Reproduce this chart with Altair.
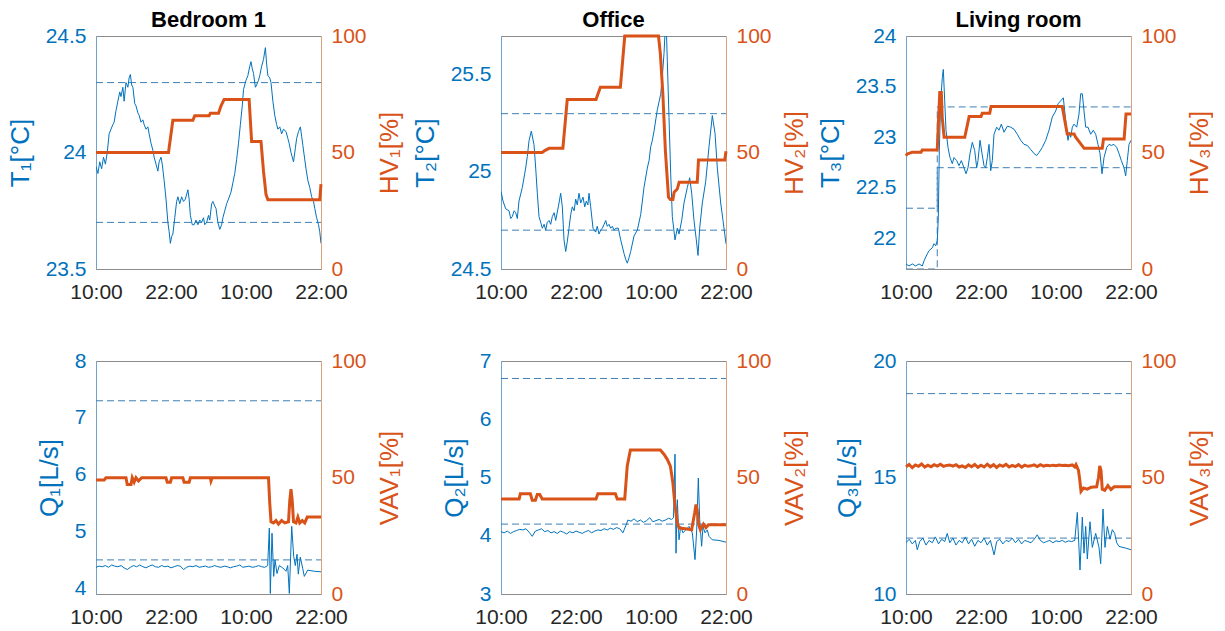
import altair as alt
import pandas as pd

BLUE = "#0072BD"
ORANGE = "#D95319"
DASH = "#3f7fb5"
FONT = "Liberation Sans"

TICK_H = [0, 12, 24, 36]
TICK_LABELS = ["10:00", "22:00", "10:00", "22:00"]

ROOMS = ["Bedroom 1", "Office", "Living room"]

# ---- temperature (left) -------------------------------------------------
T1 = [(0.0,23.94),(0.3,23.91),(0.6,23.96),(0.9,23.93),(1.2,23.98),(1.5,23.95),(1.8,24.00),(2.1,24.08),(2.4,24.10),(2.7,24.12),(2.9,24.13),(3.2,24.18),(3.5,24.22),(3.8,24.26),(4.0,24.24),(4.3,24.28),(4.5,24.22),(4.8,24.30),(5.1,24.28),(5.3,24.32),(5.5,24.335),(5.7,24.29),(5.9,24.28),(6.2,24.21),(6.4,24.20),(6.7,24.17),(6.9,24.16),(7.2,24.13),(7.5,24.14),(7.7,24.12),(8.0,24.10),(8.3,24.11),(8.5,24.08),(8.8,24.04),(9.1,24.01),(9.3,23.98),(9.6,23.95),(9.9,23.92),(10.1,23.96),(10.4,23.98),(10.6,23.95),(10.9,23.88),(11.2,23.80),(11.5,23.70),(11.7,23.66),(11.9,23.61),(12.1,23.64),(12.3,23.65),(12.6,23.72),(12.9,23.79),(13.1,23.81),(13.4,23.78),(13.7,23.81),(14.0,23.79),(14.3,23.80),(14.7,23.84),(14.9,23.80),(15.1,23.73),(15.4,23.69),(15.7,23.69),(16.0,23.71),(16.3,23.69),(16.6,23.71),(16.9,23.70),(17.2,23.72),(17.4,23.69),(17.7,23.70),(18.0,23.73),(18.2,23.71),(18.5,23.78),(18.7,23.79),(19.0,23.77),(19.2,23.76),(19.5,23.70),(19.8,23.67),(20.1,23.69),(20.3,23.72),(20.6,23.75),(20.9,23.78),(21.2,23.80),(21.6,23.83),(21.9,23.87),(22.2,23.91),(22.5,23.97),(22.8,24.04),(23.1,24.12),(23.4,24.20),(23.6,24.27),(24.0,24.31),(24.3,24.33),(24.6,24.37),(24.8,24.39),(25.0,24.36),(25.2,24.34),(25.5,24.28),(25.7,24.29),(26.0,24.31),(26.2,24.33),(26.5,24.37),(26.8,24.40),(27.1,24.45),(27.3,24.38),(27.5,24.33),(27.8,24.32),(28.0,24.30),(28.3,24.22),(28.6,24.16),(28.9,24.12),(29.1,24.10),(29.4,24.11),(29.7,24.08),(30.0,24.10),(30.4,24.09),(30.7,24.06),(30.9,24.04),(31.2,24.00),(31.6,23.96),(31.9,24.02),(32.1,24.06),(32.4,24.09),(32.7,24.11),(32.9,24.07),(33.1,24.03),(33.3,23.99),(33.6,23.93),(33.9,23.88),(34.2,23.85),(34.5,23.81),(34.8,23.79),(35.0,23.76),(35.3,23.72),(35.6,23.69),(35.8,23.66),(36.0,23.61)]

T2 = [(0,24.90),(0.32,24.85),(0.75,24.81),(1.28,24.80),(1.55,24.76),(1.81,24.77),(2.1,24.80),(2.35,24.79),(2.61,24.76),(2.88,24.85),(3.41,24.92),(3.95,25.02),(4.21,25.08),(4.48,25.16),(4.85,25.21),(5.28,25.14),(5.55,25.02),(5.81,24.89),(6.08,24.77),(6.35,24.74),(6.61,24.71),(6.9,24.73),(7.15,24.70),(7.4,24.74),(7.68,24.75),(7.95,24.73),(8.21,24.77),(8.5,24.79),(8.75,24.75),(9.17,24.82),(9.55,24.89),(9.81,24.82),(10.08,24.65),(10.35,24.59),(10.6,24.64),(10.88,24.71),(11.15,24.78),(11.41,24.82),(11.7,24.80),(11.95,24.86),(12.2,24.83),(12.48,24.89),(12.75,24.84),(13.12,24.87),(13.4,24.82),(13.65,24.85),(13.9,24.83),(14.08,24.89),(14.35,24.82),(14.72,24.71),(15.15,24.69),(15.4,24.72),(15.68,24.68),(15.95,24.70),(16.21,24.71),(16.5,24.73),(16.75,24.75),(17.0,24.72),(17.28,24.73),(17.55,24.71),(17.81,24.72),(18.1,24.70),(18.35,24.71),(18.77,24.71),(19.15,24.65),(19.68,24.58),(19.95,24.55),(20.21,24.53),(20.5,24.56),(20.75,24.59),(21.28,24.67),(21.81,24.70),(22.35,24.78),(22.88,24.92),(23.41,25.02),(23.7,25.06),(23.95,25.13),(24.2,25.16),(24.48,25.21),(25.01,25.32),(25.55,25.40),(25.81,25.49),(26.08,25.61),(26.3,25.75),(26.45,25.75),(26.61,25.57),(26.88,25.28),(27.15,24.99),(27.41,24.77),(27.84,24.65),(28.21,24.71),(28.48,24.68),(28.91,24.75),(29.28,24.84),(29.81,24.92),(30.19,24.97),(30.51,24.89),(30.88,24.75),(31.25,24.65),(31.52,24.57),(31.79,24.71),(32.21,24.84),(32.75,24.95),(33.28,25.13),(33.81,25.29),(34.24,25.20),(34.61,25.02),(35.15,24.84),(35.52,24.75),(36.0,24.63)]

T3 = [(0,21.75),(0.48,21.73),(1.01,21.75),(1.55,21.73),(2.08,21.75),(2.61,21.73),(2.88,21.78),(3.41,21.85),(3.68,21.88),(4.21,21.91),(4.48,21.95),(4.75,21.93),(5.01,21.98),(5.17,22.21),(5.33,22.87),(5.55,23.36),(5.81,23.59),(5.97,23.67),(6.19,23.36),(6.4,23.07),(6.72,22.90),(7.04,22.80),(7.41,22.74),(7.68,22.80),(8.11,22.77),(8.48,22.72),(8.85,22.77),(9.28,22.70),(9.6,22.64),(9.92,22.70),(10.24,22.84),(10.61,22.95),(10.99,22.87),(11.31,22.70),(11.52,22.77),(11.84,22.97),(12.16,22.84),(12.48,22.72),(12.75,22.70),(13.01,22.80),(13.28,22.93),(13.55,22.67),(13.81,22.77),(14.08,23.03),(14.51,23.10),(14.88,23.07),(15.25,23.13),(15.68,23.05),(16.21,23.11),(16.75,23.10),(17.28,23.08),(17.81,23.03),(18.35,22.97),(18.88,22.93),(19.41,22.92),(19.95,22.88),(20.48,22.84),(20.91,22.82),(21.28,22.85),(21.81,22.90),(22.35,22.97),(22.88,23.07),(23.41,23.20),(23.95,23.26),(24.32,23.33),(24.75,23.36),(25.17,23.39),(25.39,23.26),(25.71,23.07),(25.92,22.97),(26.13,23.05),(26.35,23.00),(26.61,23.10),(26.88,23.13),(27.31,23.10),(27.68,23.23),(27.95,23.43),(28.21,23.43),(28.48,23.26),(28.75,23.10),(29.12,23.10),(29.55,23.03),(29.97,23.07),(30.35,23.03),(30.72,22.93),(31.04,22.84),(31.36,22.64),(31.68,22.80),(32.11,22.90),(32.48,22.93),(32.85,22.92),(33.28,22.93),(33.71,22.90),(34.08,22.84),(34.45,22.77),(34.88,22.70),(35.15,22.62),(35.41,22.77),(35.68,22.93),(36.0,22.97)]

# ---- heating valve (right) ---------------------------------------------
HV1 = [(0,50),(11.6,50),(12.3,63.8),(15.5,63.8),(15.8,65.8),(18.1,65.8),(18.3,66.8),(19.6,66.8),(20.0,70),(20.5,72.8),(24.5,72.8),(24.9,54.7),(26.4,54.7),(26.8,42),(27.2,32),(27.5,29.7),(35.8,29.7),(36,36.4)]
HV2 = [(0,50),(6.6,50),(7.0,50.8),(7.7,51.8),(9.9,51.8),(10.6,72.7),(15.2,72.7),(15.9,78),(19.1,78),(19.8,100),(25.2,100),(25.5,92.3),(25.9,75),(26.3,50.8),(26.8,30.8),(27.1,29.8),(27.5,29.8),(27.7,33),(28.2,34.3),(28.5,37.2),(31.4,37.2),(31.6,46.8),(35.8,46.8),(36,50.5)]
HV3 = [(0,48.6),(0.2,49.4),(1.0,50.1),(2.4,50.1),(2.6,51.1),(5.0,51.1),(5.4,75.8),(5.65,75.8),(5.8,65),(6.1,56.5),(9.4,56.5),(10.1,65.4),(12.0,65.4),(12.2,66.8),(13.4,66.8),(13.6,69.7),(25.0,69.7),(25.8,57.9),(26.9,57.9),(27.1,56.8),(27.6,55),(28.5,51.8),(31.4,51.8),(31.6,55.8),(34.9,55.8),(35.2,66.5),(36,66.5)]

# ---- air flow (left) ----------------------------------------------------
Q1 = [(0,4.37),(0.5,4.39),(1.0,4.38),(1.5,4.40),(2.0,4.37),(2.5,4.41),(3.0,4.39),(3.5,4.38),(4.0,4.40),(4.5,4.36),(5.0,4.33),(5.5,4.37),(6.0,4.40),(6.5,4.38),(7.0,4.41),(7.5,4.38),(8.0,4.36),(8.5,4.39),(9.0,4.41),(9.5,4.38),(10.0,4.37),(10.5,4.40),(11.0,4.38),(11.5,4.39),(12.0,4.36),(12.5,4.38),(13.0,4.40),(13.5,4.39),(14.0,4.33),(14.5,4.37),(15.0,4.39),(15.5,4.38),(16.0,4.40),(16.5,4.37),(17.0,4.38),(17.5,4.39),(18.0,4.37),(18.5,4.38),(19.0,4.40),(19.5,4.38),(20.0,4.37),(20.5,4.39),(21.0,4.38),(21.5,4.36),(22.0,4.38),(22.5,4.39),(23.0,4.41),(23.5,4.37),(24.0,4.38),(24.5,4.39),(25.0,4.37),(25.5,4.38),(26.0,4.40),(26.5,4.38),(27.0,4.37),(27.47,4.40),(27.73,5.06),(27.89,3.91),(28.16,4.97),(28.43,4.21),(28.64,4.50),(28.96,4.26),(29.33,4.40),(29.87,4.36),(30.4,4.30),(30.67,4.40),(30.93,3.91),(31.31,5.09),(31.63,4.56),(31.89,4.40),(32.16,4.60),(32.37,4.25),(32.69,4.55),(33.07,4.35),(33.33,4.21),(33.87,4.32),(34.93,4.30),(36.0,4.29)]

Q2 = [(0,4.07),(0.5,4.05),(1.0,4.08),(1.5,4.04),(2.0,4.07),(2.5,4.09),(3.0,4.11),(3.5,4.10),(4.0,4.12),(4.5,4.06),(5.0,3.99),(5.5,4.08),(6.0,4.10),(6.5,4.12),(7.0,4.07),(7.5,4.09),(8.0,4.05),(8.5,4.07),(9.0,4.04),(9.5,4.08),(10.0,4.06),(10.5,4.03),(11.0,4.07),(11.5,4.05),(12.0,4.08),(12.5,4.06),(13.0,4.04),(13.5,4.07),(14.0,4.09),(14.5,4.05),(15.0,4.08),(15.5,4.10),(16.0,4.09),(16.5,4.12),(17.0,4.10),(17.5,4.13),(18.0,4.11),(18.5,4.14),(19.0,4.12),(19.5,4.05),(20.0,4.18),(20.3,4.27),(20.8,4.25),(21.3,4.29),(21.8,4.24),(22.3,4.27),(22.8,4.23),(23.3,4.26),(23.8,4.31),(24.3,4.24),(24.8,4.26),(25.3,4.28),(25.8,4.25),(26.3,4.27),(26.8,4.30),(27.3,4.28),(27.6,4.31),(27.84,5.40),(28.0,3.70),(28.21,4.62),(28.48,3.93),(28.75,4.16),(29.12,4.05),(29.55,4.10),(30.08,4.16),(30.61,4.05),(31.04,3.59),(31.31,4.10),(31.57,4.99),(31.79,4.28),(32.1,3.82),(32.32,4.16),(32.64,4.05),(33.01,4.10),(33.28,3.99),(33.81,3.93),(34.88,3.92),(36.0,3.89)]

Q3 = [(0,12.20),(0.5,12.35),(1.0,12.15),(1.5,12.30),(1.8,11.90),(2.2,12.25),(2.7,12.40),(3.2,12.10),(3.7,12.30),(4.2,12.20),(4.7,12.45),(5.2,12.15),(5.7,12.35),(6.2,12.25),(6.6,12.60),(7.0,12.20),(7.5,12.40),(8.0,12.10),(8.5,12.30),(9.0,12.20),(9.5,12.45),(10.0,12.15),(10.5,12.35),(11.0,12.05),(11.5,12.30),(12.0,12.20),(12.5,12.40),(13.0,12.10),(13.5,12.30),(14.1,11.68),(14.5,12.25),(15.0,12.35),(15.5,12.15),(16.0,12.30),(16.5,12.25),(17.0,12.40),(17.5,12.20),(18.0,12.35),(18.5,12.15),(19.0,12.30),(19.5,12.25),(20.0,12.20),(20.5,12.35),(21.0,12.54),(21.5,12.30),(22.0,12.20),(22.5,12.25),(23.0,12.30),(23.5,12.20),(24.0,12.28),(24.5,12.25),(25.0,12.30),(25.5,12.22),(26.0,12.28),(26.5,12.25),(27.0,12.30),(27.41,13.50),(27.84,11.03),(28.21,13.30),(28.48,11.75),(28.75,12.90),(29.01,11.50),(29.44,13.10),(29.81,12.00),(30.35,12.60),(30.88,12.00),(31.15,11.30),(31.52,13.65),(31.84,12.00),(32.21,12.90),(32.64,12.35),(33.01,12.76),(33.39,12.60),(33.71,12.20),(34.08,12.04),(35.15,11.97),(36.0,11.90)]

# ---- VAV damper (right) -------------------------------------------------
VAV1 = [(0,48.9),(1.3,48.9),(1.6,49.9),(4.8,49.9),(5.0,47),(5.6,47),(5.8,49.9),(6.1,48),(6.4,49.9),(6.8,48.5),(7.3,49.9),(11.2,49.9),(11.4,48),(11.9,48),(12.1,49.9),(13.9,49.9),(14.1,48),(14.9,48),(15.1,49.9),(18.3,49.9),(18.4,48.5),(18.6,49.9),(27.6,49.9),(27.8,39),(28.0,31),(28.4,30.5),(28.8,31.5),(29.2,30),(29.7,31.5),(30.2,30.5),(30.8,31),(31.0,40),(31.2,45),(31.4,40),(31.6,31),(32.0,30.5),(32.3,33),(32.6,30.5),(33.0,31.5),(33.4,30.5),(33.8,33),(36,33)]
VAV2 = [(0,40.8),(2.9,40.8),(3.1,43),(4.7,43),(5.0,40.2),(5.5,40.2),(5.8,42.7),(6.2,42.7),(6.6,40.8),(15.2,40.8),(15.5,43),(18.3,43),(18.6,40.8),(19.8,40.8),(20.2,55),(20.7,61.8),(25.5,61.8),(26.1,59.9),(26.6,57.8),(27.1,54.9),(27.5,47.7),(27.8,39.1),(28.2,30.5),(28.5,28.3),(29.5,28),(30.5,27.6),(31.0,35),(31.2,38.4),(31.4,36),(31.6,30),(31.9,27.6),(32.4,30),(32.8,28.5),(33.2,29.7),(36,29.7)]
VAV3 = [(0,54.6),(0.5,55.6),(1.0,54.2),(1.5,55.4),(2.0,54.8),(2.5,55.8),(3.0,54.5),(3.5,55.3),(4.0,54.6),(4.5,55.5),(5.0,54.9),(5.5,55.7),(6.0,54.8),(6.5,55.2),(7.0,55.4),(7.5,54.9),(8.0,55.5),(8.5,54.5),(9.0,55.0),(9.5,54.3),(10.0,55.4),(10.5,54.6),(11.0,55.6),(11.5,54.4),(12.0,55.3),(12.5,54.5),(13.0,55.7),(13.5,54.6),(14.0,55.5),(14.5,54.3),(15.0,55.4),(15.5,54.8),(16.0,55.6),(16.5,54.5),(17.0,55.2),(17.5,54.7),(18.0,55.5),(18.5,54.4),(19.0,55.3),(19.5,54.8),(20.0,55.0),(20.5,55.4),(21.0,54.7),(21.5,55.5),(22.0,54.9),(22.5,55.2),(23.0,55.0),(23.5,55.3),(24.0,55.1),(24.5,55.4),(25.0,55.2),(25.5,55.3),(26.0,55.1),(26.6,55.4),(27.0,54.5),(27.2,55.5),(27.6,53.0),(27.8,49.0),(28.0,44.1),(28.4,45.5),(29.0,45.0),(29.6,45.8),(30.5,46.0),(30.8,50.0),(31.0,55.0),(31.2,53.0),(31.4,45.0),(31.8,44.5),(32.3,46.5),(32.8,44.8),(33.3,46.0),(36.0,46.0)]

# ---- comfort / flow bounds (dashed) -------------------------------------
B1 = {"hi": [(0, 24.3), (36, 24.3)], "lo": [(0, 23.7), (36, 23.7)]}
B2 = {"hi": [(0, 25.3), (36, 25.3)], "lo": [(0, 24.7), (36, 24.7)]}
B3 = {"hi": [(0, 22.3), (5.0, 22.3), (5.0, 23.3), (36, 23.3)],
      "lo": [(0, 21.7), (5.0, 21.7), (5.0, 22.7), (36, 22.7)]}
B4 = {"hi": [(0, 7.3), (36, 7.3)], "lo": [(0, 4.5), (36, 4.5)]}
B5 = {"hi": [(0, 6.7), (36, 6.7)], "lo": [(0, 4.2), (36, 4.2)]}
B6 = {"hi": [(0, 18.6), (36, 18.6)], "lo": [(0, 12.4), (36, 12.4)]}

LEFT_DOMAINS = [[23.5, 24.5], [24.5, 25.7], [21.7, 24.0], [3.9, 8.0], [3.0, 7.0], [10.0, 20.0]]
LEFT_TICKS = [[23.5, 24, 24.5], [24.5, 25, 25.5], [22, 22.5, 23, 23.5, 24],
              [4, 5, 6, 7, 8], [3, 4, 5, 6, 7], [10, 15, 20]]
LEFT_TITLES = ["T\u2081[°C]", "T\u2082[°C]", "T\u2083[°C]", "Q\u2081[L/s]", "Q\u2082[L/s]", "Q\u2083[L/s]"]
RIGHT_TITLES = ["HV\u2081[%]", "HV\u2082[%]", "HV\u2083[%]", "VAV\u2081[%]", "VAV\u2082[%]", "VAV\u2083[%]"]
RIGHT_TICKS = [0, 50, 100]

W, H = 225, 233

label_expr = "[" + ",".join("'%s'" % s for s in TICK_LABELS) + "][indexof([" + \
    ",".join(str(v) for v in TICK_H) + "], datum.value)]"

x_enc = alt.X("h:Q", scale=alt.Scale(domain=[0, 36], nice=False, zero=False),
              axis=alt.Axis(values=TICK_H, labelExpr=label_expr, title=None,
                            labelColor="#262626", domainColor="#8c8c8c",
                            labelPadding=12, labelFontSize=21, labelOverlap=False,
                            labelBound=False, labelFlush=False, grid=False, ticks=False))


def panel(i, left, right, bounds, title=None):
    ldf = pd.DataFrame(left, columns=["h", "v"])
    rdf = pd.DataFrame(right, columns=["h", "v"])
    rows = []
    for g, pts in bounds.items():
        for h, v in pts:
            rows.append({"h": h, "v": v, "g": g})
    bdf = pd.DataFrame(rows)
    lscale = alt.Scale(domain=LEFT_DOMAINS[i], nice=False, zero=False)

    dashed = alt.Chart(bdf).mark_line(color=DASH, strokeWidth=1, strokeDash=[7, 4],
                                      clip=True).encode(
        x=x_enc, y=alt.Y("v:Q", scale=lscale, axis=None), detail="g:N")
    blue = alt.Chart(ldf).mark_line(color=BLUE, strokeWidth=1, clip=True).encode(
        x=x_enc,
        y=alt.Y("v:Q", scale=lscale,
                axis=alt.Axis(orient="left", values=LEFT_TICKS[i], format="~g",
                              title=LEFT_TITLES[i], titleColor=BLUE, labelColor=BLUE,
                              domainColor="#6fa3cf", labelPadding=10, titlePadding=12,
                              labelFontSize=21, titleFontSize=26, titleFontWeight="normal",
                              labelOverlap=False, labelBound=False, labelFlush=False,
                              grid=False, ticks=False)))
    orange = alt.Chart(rdf).mark_line(color=ORANGE, strokeWidth=3).encode(
        x=x_enc,
        y=alt.Y("v:Q", scale=alt.Scale(domain=[0, 100], nice=False, zero=False),
                axis=alt.Axis(orient="right", values=RIGHT_TICKS, format="d",
                              title=RIGHT_TITLES[i], titleColor=ORANGE, labelColor=ORANGE,
                              domainColor="#dca27c", labelPadding=10, titlePadding=10,
                              titleAngle=270, titleBaseline="top",
                              labelFontSize=21, titleFontSize=26, titleFontWeight="normal",
                              labelOverlap=False, labelBound=False, labelFlush=False,
                              grid=False, ticks=False)))
    ch = alt.layer(dashed, blue, orange).resolve_scale(y="independent")
    props = dict(width=W, height=H)
    if title:
        props["title"] = alt.TitleParams(title, fontSize=22, fontWeight="bold", color="black",
                                         font=FONT, frame="group", anchor="middle",
                                         baseline="alphabetic", offset=-24)
    return ch.properties(**props)


panels = [
    panel(0, T1, HV1, B1, ROOMS[0]),
    panel(1, T2, HV2, B2, ROOMS[1]),
    panel(2, T3, HV3, B3, ROOMS[2]),
    panel(3, Q1, VAV1, B4),
    panel(4, Q2, VAV2, B5),
    panel(5, Q3, VAV3, B6),
]

chart = alt.concat(*panels, columns=3, spacing={"row": 92, "column": 180},
                   bounds="flush", padding={"left": 6, "top": 8, "right": 0, "bottom": 0},
                   background="white"
).configure_view(stroke="#8c8c8c", strokeWidth=1).configure_axis(
    labelFont=FONT, titleFont=FONT, labelFontSize=21, titleFontSize=26,
    titleFontWeight="normal", grid=False, ticks=False
)

chart.save("out.html", embed_options={"renderer": "svg", "actions": False})
